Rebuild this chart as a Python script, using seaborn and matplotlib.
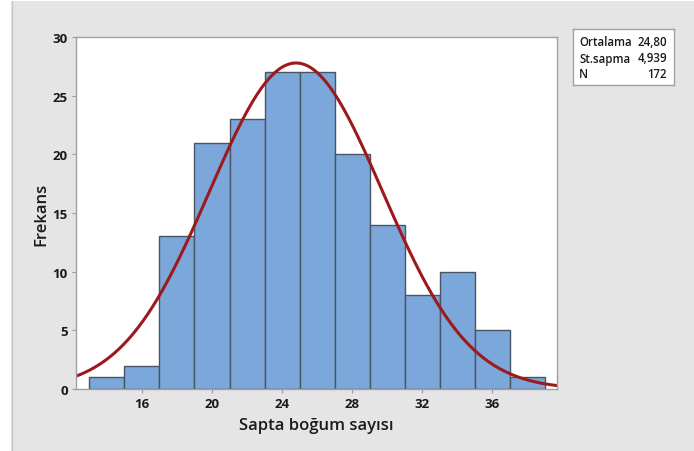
import numpy as np
import pandas as pd
import matplotlib
matplotlib.use("Agg")
import matplotlib.pyplot as plt
from matplotlib.patches import Rectangle
import seaborn as sns

# Histogram bins (width 2) and observed frequencies
bin_edges = [13, 15, 17, 19, 21, 23, 25, 27, 29, 31, 33, 35, 37, 39]
bin_centers = [14, 16, 18, 20, 22, 24, 26, 28, 30, 32, 34, 36, 38]
counts = [1, 2, 13, 21, 23, 27, 27, 20, 14, 8, 10, 5, 1]

# Summary statistics for the fitted normal curve
mean = 24.80
sd = 4.939
n = 172
bin_width = 2

x_ticks = [16, 20, 24, 28, 32, 36]
y_ticks = [0, 5, 10, 15, 20, 25, 30]

sns.set_theme(style="white")
plt.rcParams["font.family"] = ["Open Sans", "DejaVu Sans"]

bg = "#e5e5e5"
fig = plt.figure(figsize=(6.94, 4.52), dpi=100, facecolor=bg)
# white margin strip on the left edge with a thin frame line
fig.patches.append(Rectangle((0, 0), 11 / 694, 1, transform=fig.transFigure,
                             facecolor="white", edgecolor="none", zorder=0))
fig.patches.append(Rectangle((0, 1 - 2 / 452), 1, 2 / 452, transform=fig.transFigure,
                             facecolor="white", edgecolor="none", zorder=0))
fig.lines.append(plt.Line2D([11.5 / 694, 11.5 / 694], [0, 1 - 2 / 452],
                            transform=fig.transFigure, color="#c8c8c8", lw=1))

ax = fig.add_axes([76 / 694, 62 / 452, (557 - 76) / 694, (390 - 38) / 452])
ax.set_facecolor("white")

df = pd.DataFrame({"value": bin_centers, "freq": counts})
sns.histplot(data=df, x="value", weights="freq", bins=bin_edges, ax=ax,
             color="#7BA7DA", edgecolor="#4a5563", linewidth=1.0, alpha=1.0)

xs = np.linspace(12.2, 39.7, 400)
ys = n * bin_width / (sd * np.sqrt(2 * np.pi)) * np.exp(-0.5 * ((xs - mean) / sd) ** 2)
sns.lineplot(x=xs, y=ys, ax=ax, color="#9C1A1C", linewidth=2.2)

ax.set_xlim(12.23, 39.71)
ax.set_ylim(0, 30)
ax.set_xticks(x_ticks)
ax.set_yticks(y_ticks)
ax.tick_params(axis="both", which="both", length=3, width=0.8, color="#9a9a9a",
               labelsize=9.5, pad=3, bottom=True, left=True)
for lab in ax.get_xticklabels() + ax.get_yticklabels():
    lab.set_fontweight("bold")
    lab.set_color("#1a1a1a")
for s in ax.spines.values():
    s.set_color("#a0a0a0")
    s.set_linewidth(1.0)

ax.set_xlabel("Sapta boğum sayısı", fontsize=12, fontweight="semibold",
              color="#1a1a1a", labelpad=5)
ax.set_ylabel("Frekans", fontsize=12, fontweight="semibold",
              color="#1a1a1a", labelpad=2)

# statistics box
box = fig.add_axes([573 / 694, (452 - 86) / 452, (674 - 573) / 694, (86 - 30) / 452])
box.set_facecolor("white")
box.set_xticks([])
box.set_yticks([])
for s in box.spines.values():
    s.set_color("#a0a0a0")
    s.set_linewidth(1.0)
rows = [("Ortalama", f"{mean:.2f}".replace(".", ",")),
        ("St.sapma", f"{sd:.3f}".replace(".", ",")),
        ("N", str(n))]
row_y = [43, 59, 75]
for (k, v), py in zip(rows, row_y):
    yy = 1 - (py - 30) / 56
    box.text(6 / 101, yy, k, transform=box.transAxes, fontsize=8.3,
             fontweight="semibold", va="center", ha="left", color="#1a1a1a")
    box.text(94 / 101, yy, v, transform=box.transAxes, fontsize=8.3,
             fontweight="semibold", va="center", ha="right", color="#1a1a1a")

fig.savefig("out.png", dpi=100, facecolor=bg)
